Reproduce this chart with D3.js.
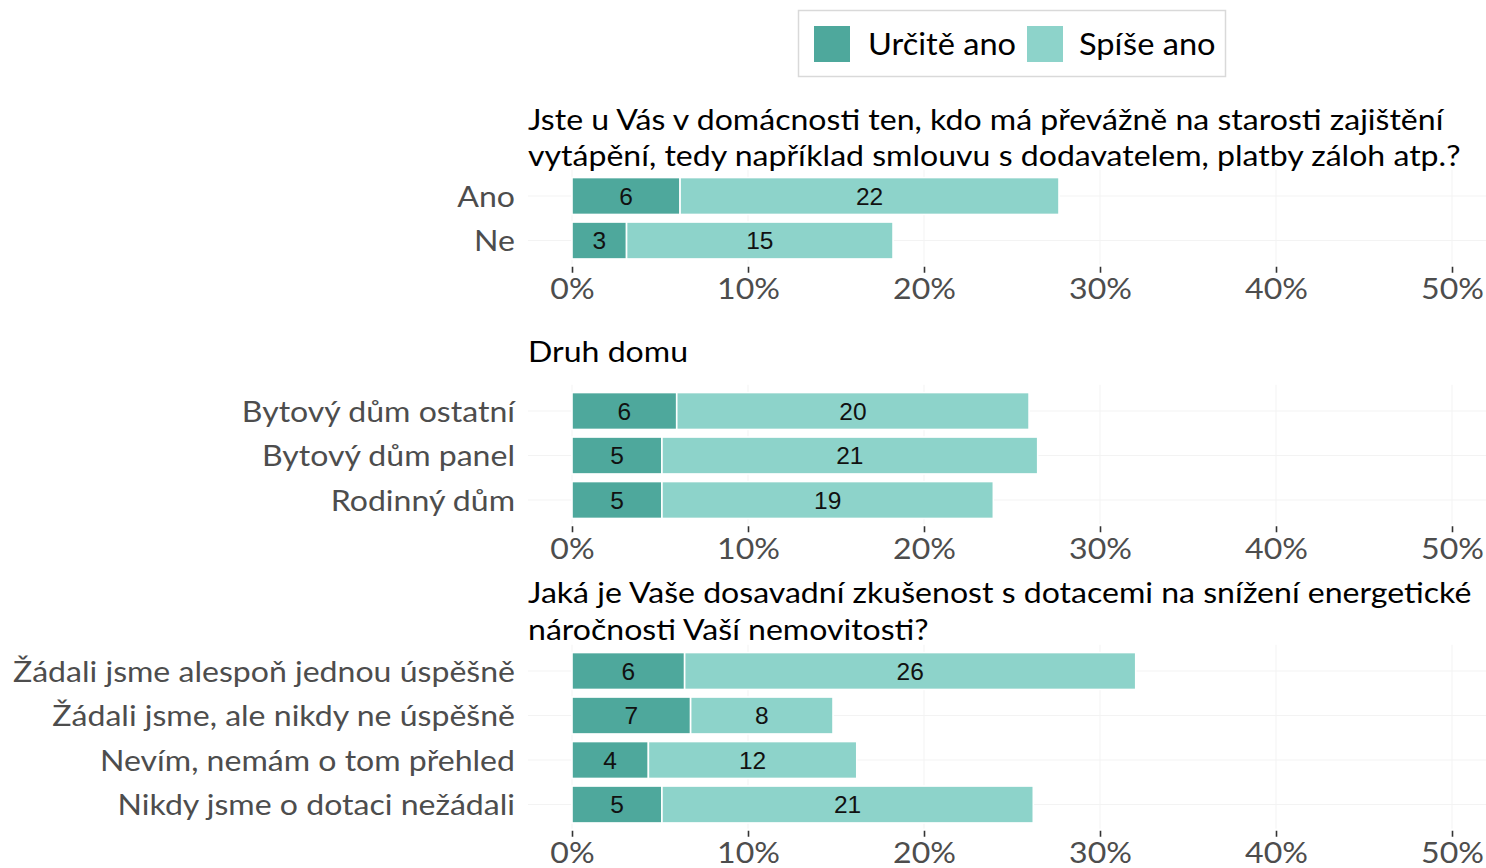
<!DOCTYPE html>
<html>
<head>
<meta charset="utf-8">
<script src="https://cdn.jsdelivr.net/npm/d3@7"></script>
<style>
  html, body { margin: 0; padding: 0; background: #fff; }
  svg { display: block; }
</style>
</head>
<body>
<svg id="chart" width="1486" height="868"></svg>
<script>
// ---------------- DATA ----------------
const seriesNames = ["Určitě ano", "Spíše ano"];
const seriesColors = ["#4ea89c", "#8dd3ca"];

const titles1 = ["Jste u Vás v domácnosti ten, kdo má převážně na starosti zajištění",
                 "vytápění, tedy například smlouvu s dodavatelem, platby záloh atp.?"];
const categories1 = ["Ano", "Ne"];
const urcite1 = [6.14, 3.10];
const spise1  = [21.53, 15.14];

const titles2 = ["Druh domu"];
const categories2 = ["Bytový dům ostatní", "Bytový dům panel", "Rodinný dům"];
const urcite2 = [5.95, 5.11, 5.11];
const spise2  = [20.02, 21.35, 18.83];

const titles3 = ["Jaká je Vaše dosavadní zkušenost s dotacemi na snížení energetické",
                 "náročnosti Vaší nemovitosti?"];
const categories3 = ["Žádali jsme alespoň jednou úspěšně", "Žádali jsme, ale nikdy ne úspěšně",
                     "Nevím, nemám o tom přehled", "Nikdy jsme o dotaci nežádali"];
const urcite3 = [6.40, 6.74, 4.34, 5.11];
const spise3  = [25.63, 8.09, 11.84, 21.10];

const xTicks = [0, 10, 20, 30, 40, 50];
const xDomain = [0, 50];

// ---------------- LAYOUT ----------------
const svg = d3.select("#chart");
const FONT = "Lato, 'Open Sans', sans-serif";
const NUMFONT = "'Liberation Sans', Arial, sans-serif";
const panelLeft = 528, panelRight = 1486;
const x = d3.scaleLinear().domain(xDomain).range([572, 1452]);

// width calibration (Calibri-like narrow look)
let kWidth = 1;
{
  const t = svg.append("text").attr("font-family", FONT).attr("font-size", 29.5)
    .text(categories3[0]);
  const w = t.node().getComputedTextLength();
  kWidth = 502 / w;
  t.remove();
}
function fit(sel) {
  sel.each(function() {
    const w = this.getComputedTextLength();
    if (w > 0) d3.select(this).attr("textLength", w * kWidth).attr("lengthAdjust", "spacingAndGlyphs");
  });
  return sel;
}

const panels = [
  {titles: titles1, cats: categories1, a: urcite1, b: spise1, top: 173.75, titleBase: [130, 166]},
  {titles: titles2, cats: categories2, a: urcite2, b: spise2, top: 388.75, titleBase: [362]},
  {titles: titles3, cats: categories3, a: urcite3, b: spise3, top: 648.75, titleBase: [603, 640]}
];
const step = 44.5;

panels.forEach(p => {
  const g = svg.append("g");
  const y = d3.scaleBand().domain(p.cats)
    .range([p.top, p.top + step * p.cats.length]).paddingInner(0.17).paddingOuter(0.085);
  const yTop = p.top - 4, yBot = p.top + step * p.cats.length + 2;

  // gridlines
  g.selectAll("line.vg").data(xTicks).join("line")
    .attr("x1", d => x(d)).attr("x2", d => x(d))
    .attr("y1", yTop).attr("y2", yBot)
    .attr("stroke", "#f3f3f3").attr("stroke-width", 1);
  g.selectAll("line.hg").data(p.cats).join("line")
    .attr("x1", panelLeft).attr("x2", panelRight)
    .attr("y1", d => y(d) + y.bandwidth() / 2).attr("y2", d => y(d) + y.bandwidth() / 2)
    .attr("stroke", "#f3f3f3").attr("stroke-width", 1);

  // titles
  p.titles.forEach((t, i) => {
    g.append("text").attr("x", panelLeft).attr("y", p.titleBase[i])
      .attr("font-family", FONT).attr("font-size", 29.5).attr("fill", "#000")
      .text(t).call(fit);
  });

  // bars
  const rows = p.cats.map((c, i) => ({c, a: p.a[i], b: p.b[i]}));
  const segs = [];
  rows.forEach(r => {
    segs.push({c: r.c, x0: 0, x1: r.a, s: 0});
    segs.push({c: r.c, x0: r.a, x1: r.a + r.b, s: 1});
  });
  g.selectAll("rect.bar").data(segs).join("rect")
    .attr("x", d => x(d.x0)).attr("width", d => x(d.x1) - x(d.x0))
    .attr("y", d => y(d.c)).attr("height", y.bandwidth())
    .attr("fill", d => seriesColors[d.s])
    .attr("stroke", "#fff").attr("stroke-width", 1.6);
  g.selectAll("text.val").data(segs).join("text")
    .attr("x", d => (x(d.x0) + x(d.x1)) / 2)
    .attr("y", d => y(d.c) + y.bandwidth() / 2 + 8.5)
    .attr("text-anchor", "middle")
    .attr("font-family", NUMFONT).attr("font-size", 24.5).attr("fill", "#111")
    .text(d => Math.round(d.x1 - d.x0));

  // category labels
  g.selectAll("text.cat").data(p.cats).join("text")
    .attr("x", 515).attr("y", d => y(d) + y.bandwidth() / 2 + 10.5)
    .attr("text-anchor", "end")
    .attr("font-family", FONT).attr("font-size", 29.5).attr("fill", "#4d4d4d")
    .text(d => d).call(fit);

  // x axis
  const axisY = p.top + step * p.cats.length + 4;
  const ax = g.append("g").attr("transform", `translate(0,${axisY})`)
    .call(d3.axisBottom(x).tickValues(xTicks).tickFormat(d => d + "%").tickSize(6).tickPadding(4));
  ax.select(".domain").remove();
  ax.selectAll(".tick line").attr("stroke", "#333").attr("stroke-width", 1.6);
  ax.selectAll(".tick text")
    .attr("font-family", FONT).attr("font-size", 29.5).attr("fill", "#4d4d4d")
    .attr("dy", "0.77em").call(fit);
});

// legend
const lg = svg.append("g");
lg.append("rect").attr("x", 798.5).attr("y", 10.5).attr("width", 427).attr("height", 66)
  .attr("fill", "#fff").attr("stroke", "#d9d9d9").attr("stroke-width", 1.5);
const legX = [814, 1027], legTX = [868, 1079];
seriesNames.forEach((n, i) => {
  lg.append("rect").attr("x", legX[i]).attr("y", 26).attr("width", 36).attr("height", 36)
    .attr("fill", seriesColors[i]);
  lg.append("text").attr("x", legTX[i]).attr("y", 55)
    .attr("font-family", FONT).attr("font-size", 30).attr("fill", "#000")
    .text(n).call(fit);
});
</script>
</body>
</html>
